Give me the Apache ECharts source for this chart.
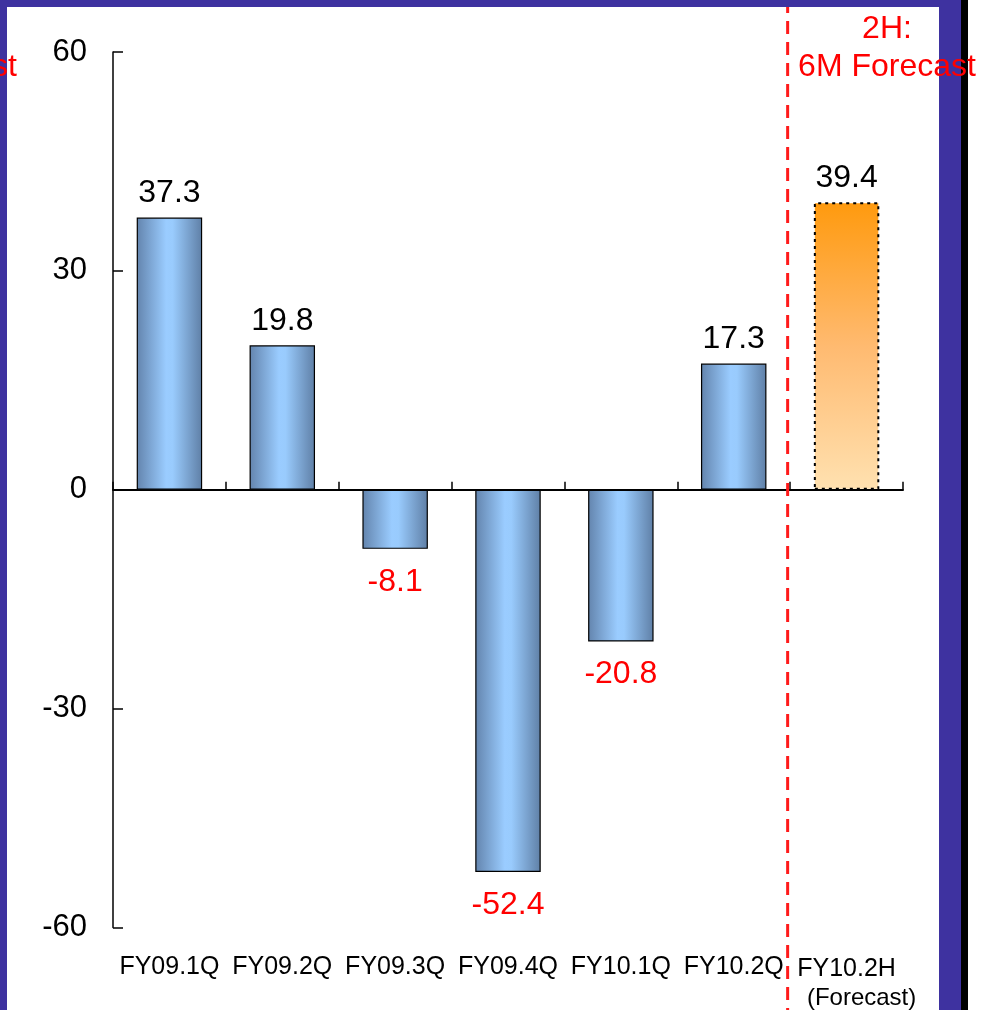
<!DOCTYPE html>
<html>
<head>
<meta charset="utf-8">
<script src="https://cdn.jsdelivr.net/npm/echarts@6/dist/echarts.min.js"></script>
<style>
html,body{margin:0;padding:0;background:#fff;}
#c{width:984px;height:1010px;}
</style>
</head>
<body>
<div id="c"></div>
<script>
const categories = ['FY09.1Q','FY09.2Q','FY09.3Q','FY09.4Q','FY10.1Q','FY10.2Q','FY10.2H'];
const values = [37.3, 19.8, -8.1, -52.4, -20.8, 17.3, 39.4];
const forecastIndex = 6;
const yTicks = [-60, -30, 0, 30, 60];

const FONT = "'Liberation Sans', Arial, sans-serif";
const blueGrad = new echarts.graphic.LinearGradient(0, 0, 1, 0, [
  {offset: 0, color: '#6384ad'},
  {offset: 0.45, color: '#9accff'},
  {offset: 0.55, color: '#99cbfd'},
  {offset: 1, color: '#5f7fa6'}
]);
const orangeGrad = new echarts.graphic.LinearGradient(0, 0, 0, 1, [
  {offset: 0, color: '#ff9a0e'},
  {offset: 0.5, color: '#ffba70'},
  {offset: 1, color: '#ffe1b0'}
]);

const barData = values.map((v, i) => {
  const isF = i === forecastIndex;
  return {
    value: v,
    itemStyle: isF
      ? {color: orangeGrad, borderColor: '#000', borderWidth: 2, borderType: [3, 4]}
      : {color: blueGrad, borderColor: '#000', borderWidth: 1.2},
    label: {
      show: true,
      position: v >= 0 ? 'top' : 'bottom',
      distance: v >= 0 ? 8 : 17,
      color: v >= 0 ? '#000' : '#ff0000',
      fontSize: 32,
      fontFamily: FONT
    }
  };
});

const chart = echarts.init(document.getElementById('c'));
chart.setOption({
  animation: false,
  backgroundColor: '#fff',
  grid: {left: 113, right: 81, top: 52, bottom: 82},
  xAxis: [{
    type: 'category',
    data: categories,
    axisLine: {onZero: true, lineStyle: {color: '#000', width: 2}},
    axisTick: {show: true, inside: true, length: 8, lineStyle: {color: '#000', width: 1.5}},
    axisLabel: {show: false}
  }, {
    type: 'category',
    data: categories,
    position: 'bottom',
    axisLine: {show: false, onZero: false},
    axisTick: {show: false},
    axisLabel: {
      margin: 27,
      color: '#000',
      fontSize: 25,
      fontFamily: FONT,
      interval: 0,
      formatter: function (v) {
        if (v === categories[forecastIndex]) return '{a|' + v + '}\n{b|(Forecast)}';
        return v;
      },
      rich: {
        a: {fontSize: 25, fontFamily: FONT, color: '#000', lineHeight: 29},
        b: {fontSize: 24, fontFamily: FONT, color: '#000', lineHeight: 29, padding: [0, 0, 0, 30]}
      }
    }
  }],
  yAxis: {
    type: 'value',
    min: yTicks[0],
    max: yTicks[yTicks.length - 1],
    interval: 30,
    splitLine: {show: false},
    axisLine: {show: true, lineStyle: {color: '#000', width: 1.5}},
    axisTick: {show: true, inside: true, length: 10, lineStyle: {color: '#000', width: 1.5}},
    axisLabel: {margin: 26, color: '#000', fontSize: 31, fontFamily: FONT}
  },
  series: [{
    type: 'bar',
    xAxisIndex: 0,
    data: barData,
    barWidth: '58%',
    z: 3
  }]
});

const c5 = chart.convertToPixel({xAxisIndex: 0}, categories[forecastIndex - 1]);
const c6 = chart.convertToPixel({xAxisIndex: 0}, categories[forecastIndex]);
const sepX = (c5 + c6) / 2 - 2.5;
const purple = '#3e32a0';

chart.setOption({
  graphic: [
    {type: 'rect', shape: {x: 0, y: 0, width: 7, height: 1010}, style: {fill: purple}, z: 50},
    {type: 'rect', shape: {x: 0, y: 0, width: 962, height: 7}, style: {fill: purple}, z: 50},
    {type: 'rect', shape: {x: 939, y: 0, width: 22, height: 1010}, style: {fill: purple}, z: 50},
    {type: 'rect', shape: {x: 961, y: 0, width: 7, height: 1010}, style: {fill: '#000'}, z: 50},
    {type: 'line', shape: {x1: sepX, y1: 0, x2: sepX, y2: 1010},
      style: {stroke: '#ff1a1a', lineWidth: 3, lineDash: [13, 8]}, z: 40},
    {type: 'text', x: 887, y: 13, z: 60,
      style: {text: '2H:', fill: '#ff0000', font: '32px ' + FONT, textAlign: 'center'}},
    {type: 'text', x: 887, y: 51, z: 60,
      style: {text: '6M Forecast', fill: '#ff0000', font: '32px ' + FONT, textAlign: 'center'}},
    {type: 'text', x: 17, y: 51, z: 60,
      style: {text: 'Forecast', fill: '#ff0000', font: '32px ' + FONT, textAlign: 'right'}}
  ]
});
</script>
</body>
</html>
